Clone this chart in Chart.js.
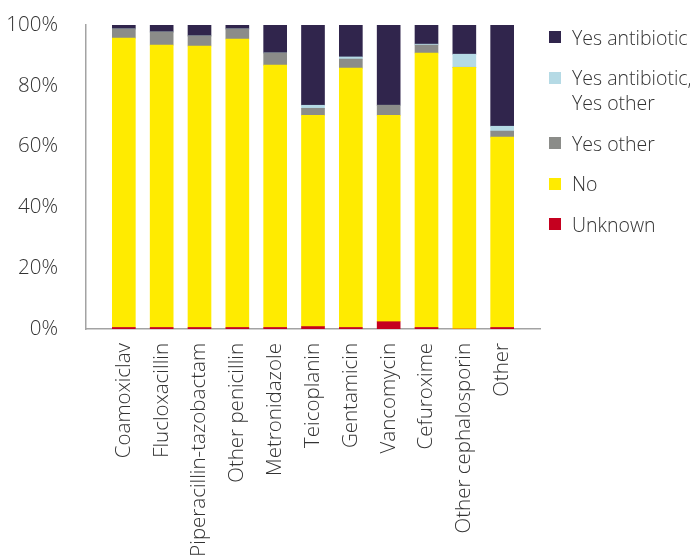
<!DOCTYPE html>
<html>
<head>
<meta charset="utf-8">
<script src="https://cdn.jsdelivr.net/npm/chart.js@4/dist/chart.umd.min.js"></script>
<style>
  html, body { margin: 0; padding: 0; background: #ffffff; }
  #wrap { position: relative; width: 690px; height: 559px; overflow: hidden; }
  #legend { position: absolute; left: 549px; top: 24.5px; font-family: "Open Sans", Lato, sans-serif; font-weight: 300; font-size: 19.5px; color: #333333; white-space: nowrap; }
  .item { display: flex; align-items: flex-start; margin-bottom: 15.5px; line-height: 25px; }
  .sw { width: 12px; height: 12px; margin-top: 6.5px; margin-right: 11px; flex: none; }
</style>
</head>
<body>
<div id="wrap">
  <canvas id="c" width="690" height="559"></canvas>
  <div id="legend"></div>
</div>
<script>
const categories = ['Coamoxiclav', 'Flucloxacillin', 'Piperacillin-tazobactam', 'Other penicillin', 'Metronidazole', 'Teicoplanin', 'Gentamicin', 'Vancomycin', 'Cefuroxime', 'Other cephalosporin', 'Other'];
const unknownVals   = [0.5, 0.5, 0.5, 0.5, 0.5, 0.8, 0.5, 2.4, 0.5, 0, 0.5];
const noVals        = [95.2, 92.9, 92.6, 94.9, 86.3, 69.5, 85.3, 67.9, 90.3, 86.1, 62.6];
const yesOtherVals  = [3.0, 4.3, 3.3, 3.3, 4.0, 2.3, 3.0, 3.3, 2.6, 0, 2.0];
const yesBothVals   = [0, 0, 0, 0, 0, 1.0, 0.7, 0, 0.3, 4.3, 1.6];
const yesAbVals     = [1.3, 2.3, 3.6, 1.3, 9.2, 26.4, 10.5, 26.4, 6.3, 9.6, 33.3];
const yTicks = [0, 20, 40, 60, 80, 100];

const seriesNames = ['Unknown', 'No', 'Yes other', ['Yes antibiotic,', 'Yes other'], 'Yes antibiotic'];
const seriesColors = ['#c5001f', '#ffeb00', '#8b8c89', '#b5dae5', '#30254c'];
const seriesValues = [unknownVals, noVals, yesOtherVals, yesBothVals, yesAbVals];

const datasets = seriesValues.map((vals, s) => ({
  label: Array.isArray(seriesNames[s]) ? seriesNames[s].join(' ') : seriesNames[s],
  data: vals.map((v, i) => ({ x: i, y: v })),
  backgroundColor: seriesColors[s],
  borderWidth: 0,
  barThickness: 23
}));

const FONT = { family: '"Open Sans", Lato, sans-serif', size: 20.5, weight: 300 };

new Chart(document.getElementById('c'), {
  type: 'bar',
  data: { datasets },
  options: {
    responsive: false,
    animation: false,
    layout: { padding: { top: 25, right: 150, left: 0, bottom: 0 } },
    plugins: { legend: { display: false }, tooltip: { enabled: false } },
    scales: {
      x: {
        type: 'linear',
        stacked: true,
        offset: false,
        min: -1,
        max: 11,
        grid: { display: false, drawTicks: false, offset: false },
        border: { display: true, color: '#a3a3a3', width: 1.5 },
        afterBuildTicks: (scale) => { scale.ticks = categories.map((c, i) => ({ value: i })); },
        afterFit: (scale) => { scale.height = 230; scale.paddingLeft = 0; scale.paddingRight = 0; },
        ticks: {
          autoSkip: false,
          maxRotation: 90,
          minRotation: 90,
          padding: 14,
          color: '#333333',
          font: FONT,
          callback: (v) => categories[v] !== undefined ? categories[v] : ''
        }
      },
      y: {
        stacked: true,
        min: 0,
        max: 100,
        grid: { display: false, drawTicks: false },
        border: { display: true, color: '#a3a3a3', width: 1.5 },
        afterBuildTicks: (scale) => { scale.ticks = yTicks.map(v => ({ value: v })); },
        afterFit: (scale) => { scale.width = 86; scale.paddingTop = 0; scale.paddingBottom = 0; },
        ticks: {
          padding: 28,
          color: '#333333',
          font: FONT,
          callback: (v) => v + '%'
        }
      }
    }
  }
});

// HTML legend (top to bottom = reverse stacking order)
const legend = document.getElementById('legend');
for (let s = seriesNames.length - 1; s >= 0; s--) {
  const item = document.createElement('div');
  item.className = 'item';
  const sw = document.createElement('div');
  sw.className = 'sw';
  sw.style.background = seriesColors[s];
  const txt = document.createElement('div');
  const name = seriesNames[s];
  txt.innerHTML = Array.isArray(name) ? name.join('<br>') : name;
  item.appendChild(sw);
  item.appendChild(txt);
  legend.appendChild(item);
}
</script>
</body>
</html>
